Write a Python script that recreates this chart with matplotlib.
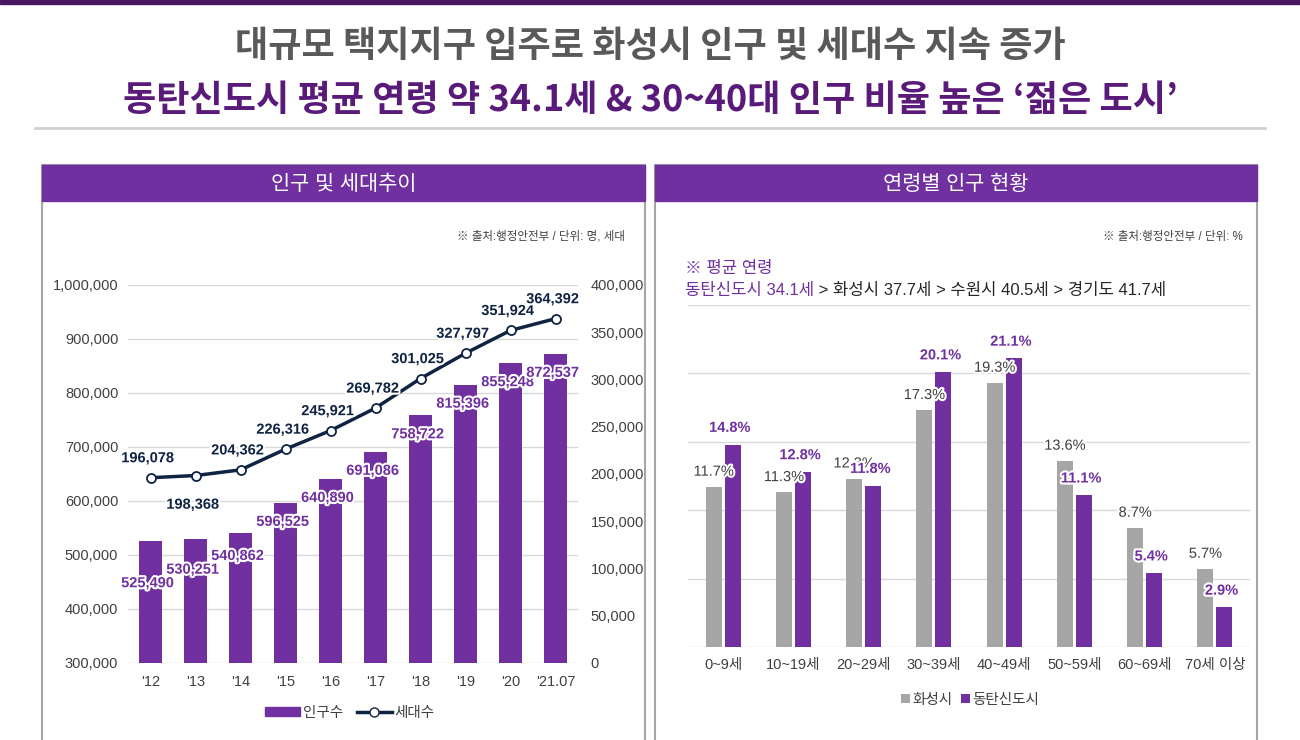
import matplotlib
matplotlib.use("Agg")
import matplotlib.pyplot as plt
from matplotlib.patches import Rectangle
from matplotlib.lines import Line2D
import matplotlib.patheffects as pe

plt.rcParams['font.family'] = ['Liberation Sans', 'Noto Sans CJK KR', 'DejaVu Sans']

# data
years = ["'12", "'13", "'14", "'15", "'16", "'17", "'18", "'19", "'20", "'21.07"]
population = [525490, 530251, 540862, 596525, 640890, 691086, 758722, 815396, 855248, 872537]
households = [196078, 198368, 204362, 226316, 245921, 269782, 301025, 327797, 351924, 364392]

age_groups = ['0~9세', '10~19세', '20~29세', '30~39세', '40~49세', '50~59세', '60~69세', '70세 이상']
hwaseong = [11.7, 11.3, 12.3, 17.3, 19.3, 13.6, 8.7, 5.7]
dongtan = [14.8, 12.8, 11.8, 20.1, 21.1, 11.1, 5.4, 2.9]

PURPLE = '#7030A0'
DARK_PURPLE = '#5A1A7A'
NAVY = '#0F2342'
GREY_BAR = '#A6A6A6'
TXT = '#404040'
GRID = '#D9D9D9'

W, H = 1300, 740
fig = plt.figure(figsize=(13, 7.4), dpi=100)


def fx(x):
    return x / W


def fy(y):
    return 1 - y / H


def axes_px(x0, y0, x1, y1):
    # pixel box (top-left / bottom-right) -> figure axes
    a = fig.add_axes([fx(x0), fy(y1), fx(x1) - fx(x0), fy(y0) - fy(y1)])
    a.patch.set_visible(False)
    return a


# top decoration and titles
fig.patches.append(Rectangle((0, fy(4)), 1, 4 / H, transform=fig.transFigure,
                             color='#4A1563', zorder=0))
fig.add_artist(Line2D([fx(35), fx(1265)], [fy(128), fy(128)], color='#D0D0D0', lw=2))
fig.text(0.5, fy(46), '대규모 택지지구 입주로 화성시 인구 및 세대수 지속 증가',
         ha='center', va='center', fontsize=26, fontweight='bold', color='#595959',
         family=['Noto Sans CJK KR', 'DejaVu Sans'])
fig.text(0.5, fy(101), '동탄신도시 평균 연령 약 34.1세 & 30~40대 인구 비율 높은 ‘젊은 도시’',
         ha='center', va='center', fontsize=26, fontweight='bold', color=DARK_PURPLE,
         family=['Noto Sans CJK KR', 'DejaVu Sans'])

# panel boxes with header bars
for (x0, x1, title) in [(42, 645, '인구 및 세대추이'), (655, 1257, '연령별 인구 현황')]:
    fig.patches.append(Rectangle((fx(x0), fy(760)), fx(x1) - fx(x0), fy(165) - fy(760),
                                 transform=fig.transFigure, facecolor='white',
                                 edgecolor=GREY_BAR, lw=1.5, zorder=0))
    fig.patches.append(Rectangle((fx(x0), fy(201)), fx(x1) - fx(x0), fy(165) - fy(201),
                                 transform=fig.transFigure, color=PURPLE, zorder=1))
    fig.text(fx((x0 + x1) / 2), fy(184), title, ha='center', va='center',
             fontsize=15, color='white')

# ---- left chart: population bars + household line ----
ax = axes_px(128, 285, 578, 663)
ax.set_zorder(2)
x = range(len(years))
ax.bar(x, population, width=0.52, color=PURPLE, zorder=2)
ax.set_ylim(300000, 1000000)
ax.set_xlim(-0.5, len(years) - 0.5)
ax.set_yticks(range(300000, 1000001, 100000))
ax.yaxis.set_major_formatter(matplotlib.ticker.FuncFormatter(lambda v, p: f'{int(v):,}'))
ax.set_xticks(list(x))
ax.set_xticklabels(years)
ax.grid(axis='y', color=GRID, lw=1, zorder=0)
ax.set_axisbelow(True)
for s in ax.spines.values():
    s.set_visible(False)
ax.tick_params(axis='y', length=0, pad=7, labelsize=10.5, labelcolor=TXT)
ax.tick_params(axis='x', length=0, pad=9, labelsize=10.5, labelcolor=TXT)

# bar labels sit inside the bar top; first ones pushed lower to clear the line labels
bar_drop = [42, 31, 23]
for i, v in enumerate(population):
    d = bar_drop[i] if i < len(bar_drop) else 19
    ax.annotate(f'{v:,}', (i, v), xytext=(-2, -d * 0.72), textcoords='offset points',
                ha='center', va='center', fontsize=10.5, fontweight='bold', color=PURPLE,
                path_effects=[pe.withStroke(linewidth=3, foreground='white')], zorder=4)

ax2 = ax.twinx()
ax2.set_zorder(3)
ax2.patch.set_visible(False)
ax2.set_ylim(0, 400000)
ax2.set_yticks(range(0, 400001, 50000))
ax2.yaxis.set_major_formatter(matplotlib.ticker.FuncFormatter(lambda v, p: f'{int(v):,}'))
for s in ax2.spines.values():
    s.set_visible(False)
ax2.tick_params(axis='y', length=0, pad=9, labelsize=10.5, labelcolor=TXT)
ax2.plot(x, households, color=NAVY, lw=2.5, marker='o', ms=6.5,
         markerfacecolor='white', markeredgecolor=NAVY, markeredgewidth=1.3, zorder=3)
for i, v in enumerate(households):
    dy = -21 if i == 1 else 14
    ax2.annotate(f'{v:,}', (i, v), xytext=(-2, dy), textcoords='offset points',
                 ha='center', va='center', fontsize=10.5, fontweight='bold', color=NAVY,
                 path_effects=[pe.withStroke(linewidth=3, foreground='white')])

fig.text(fx(625), fy(237), '※ 출처:행정안전부 / 단위: 명, 세대', ha='right', va='center',
         fontsize=8.3, color=TXT)

h_bar = Rectangle((0, 0), 1, 1, color=PURPLE)
h_line = Line2D([], [], color=NAVY, lw=2.5, marker='o', ms=6.5, markerfacecolor='white',
                markeredgecolor=NAVY)
fig.legend([h_bar, h_line], ['인구수', '세대수'], loc='center', bbox_to_anchor=(fx(350), fy(713)),
           ncol=2, frameon=False, fontsize=10.5, handlelength=2.4, handleheight=0.6,
           handletextpad=0.2, columnspacing=0.9, labelcolor=TXT)

# ---- right chart: age distribution ----
bx = axes_px(688, 305, 1250, 647)
bx.set_zorder(2)
xi = range(len(age_groups))
bw, off = 0.23, 0.135
bx.bar([i - off for i in xi], hwaseong, width=bw, color=GREY_BAR, zorder=2, label='화성시')
bx.bar([i + off for i in xi], dongtan, width=bw, color=PURPLE, zorder=2, label='동탄신도시')
bx.set_ylim(0, 25)
bx.set_xlim(-0.5, len(age_groups) - 0.5)
bx.set_yticks(range(0, 26, 5))
bx.set_yticklabels([])
bx.grid(axis='y', color=GRID, lw=1, zorder=0)
bx.set_axisbelow(True)
for s in bx.spines.values():
    s.set_visible(False)
bx.tick_params(axis='y', length=0)
bx.tick_params(axis='x', length=0, pad=8, labelsize=10.5, labelcolor=TXT)
bx.set_xticks(list(xi))
bx.set_xticklabels(age_groups)
for i in xi:
    bx.annotate(f'{hwaseong[i]}%', (i - off, hwaseong[i]), xytext=(0, 11),
                textcoords='offset points', ha='center', va='center', fontsize=10.5,
                color=TXT, path_effects=[pe.withStroke(linewidth=3, foreground='white')])
    bx.annotate(f'{dongtan[i]}%', (i + off, dongtan[i]), xytext=(-2, 12),
                textcoords='offset points', ha='center', va='center', fontsize=10.5,
                fontweight='bold', color=PURPLE,
                path_effects=[pe.withStroke(linewidth=3, foreground='white')])

fig.text(fx(1243), fy(237), '※ 출처:행정안전부 / 단위: %', ha='right', va='center',
         fontsize=8.3, color=TXT)
fig.text(fx(685), fy(268), '※ 평균 연령', ha='left', va='center', fontsize=12,
         color=PURPLE)
t1 = fig.text(fx(685), fy(290), '동탄신도시 34.1세', ha='left', va='center', fontsize=12,
              color=PURPLE)
fig.canvas.draw()
bb = t1.get_window_extent()
fig.text(bb.x1 / fig.dpi / 13, fy(290), ' > 화성시 37.7세 > 수원시 40.5세 > 경기도 41.7세',
         ha='left', va='center', fontsize=12, color='#262626')

fig.legend(*bx.get_legend_handles_labels(), loc='center', bbox_to_anchor=(fx(970), fy(700)),
           ncol=2, frameon=False, fontsize=10.5, handlelength=0.6, handleheight=0.6,
           handletextpad=0.15, columnspacing=0.6, labelcolor=TXT)

fig.savefig('out.png', dpi=100)
